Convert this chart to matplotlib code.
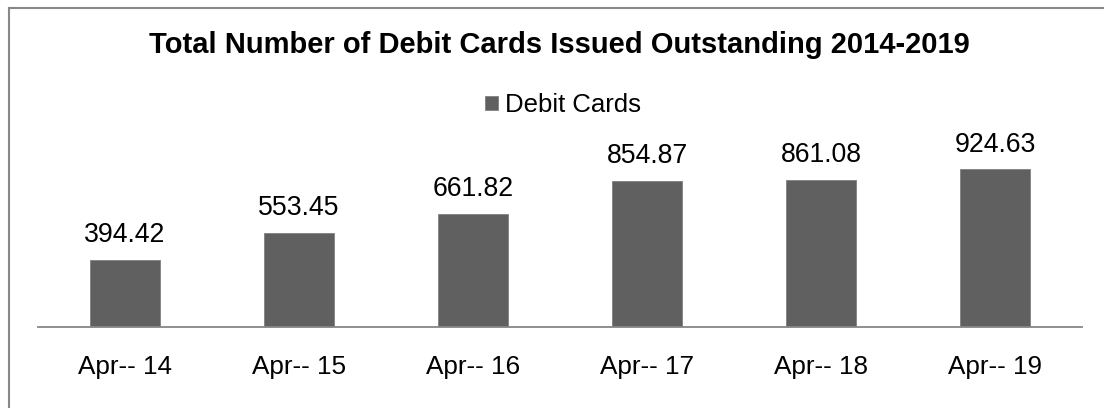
import matplotlib
matplotlib.use("Agg")
import matplotlib.pyplot as plt
from matplotlib.lines import Line2D

categories = ["Apr-- 14", "Apr-- 15", "Apr-- 16", "Apr-- 17", "Apr-- 18", "Apr-- 19"]
values = [394.42, 553.45, 661.82, 854.87, 861.08, 924.63]
series_name = "Debit Cards"
title = "Total Number of Debit Cards Issued Outstanding 2014-2019"

plt.rcParams['font.family'] = ['Liberation Sans', 'DejaVu Sans']

W, H = 1104, 408
fig = plt.figure(figsize=(W / 100, H / 100), dpi=100)
ax = fig.add_axes([38 / W, 81 / H, (1082 - 38) / W, 170.5 / H])

x = list(range(len(categories)))
bars = ax.bar(x, values, width=0.397, color="#606060", edgecolor="#808080",
              linewidth=0.6, label=series_name, zorder=2)
ax.set_xlim(-0.5, len(categories) - 0.5)
ax.set_ylim(0, 1000)

for rect, v in zip(bars, values):
    ax.annotate(f"{v:.2f}", (rect.get_x() + rect.get_width() / 2, v),
                xytext=(0, 8.5), textcoords="offset points",
                ha="center", va="bottom", fontsize=19.2, color="#000000")

ax.set_xticks(x)
ax.set_xticklabels(categories, fontsize=18.8)
ax.tick_params(axis="x", length=0, pad=20)
ax.set_yticks([])
for s in ["top", "right", "left"]:
    ax.spines[s].set_visible(False)
ax.spines["bottom"].set_color("#868686")
ax.spines["bottom"].set_linewidth(1.3)

fig.text(559 / W, 1 - 45 / H, title, ha="center", va="center",
         fontsize=21, fontweight="bold", color="#000000")

leg = fig.legend(handles=[bars], labels=[series_name], loc="center",
                 bbox_to_anchor=(563 / W, 1 - 105 / H), frameon=False,
                 fontsize=18.5, handlelength=0.5, handleheight=0.5,
                 handletextpad=0.3, borderpad=0, borderaxespad=0)

# outer frame (top and left visible)
fig.add_artist(Line2D([9 / W, 9 / W], [0, 1 - 8 / H], transform=fig.transFigure,
                      color="#888888", linewidth=1.5))
fig.add_artist(Line2D([9 / W, 1], [1 - 8 / H, 1 - 8 / H], transform=fig.transFigure,
                      color="#888888", linewidth=1.5))

fig.savefig("out.png", dpi=100, facecolor="white")
